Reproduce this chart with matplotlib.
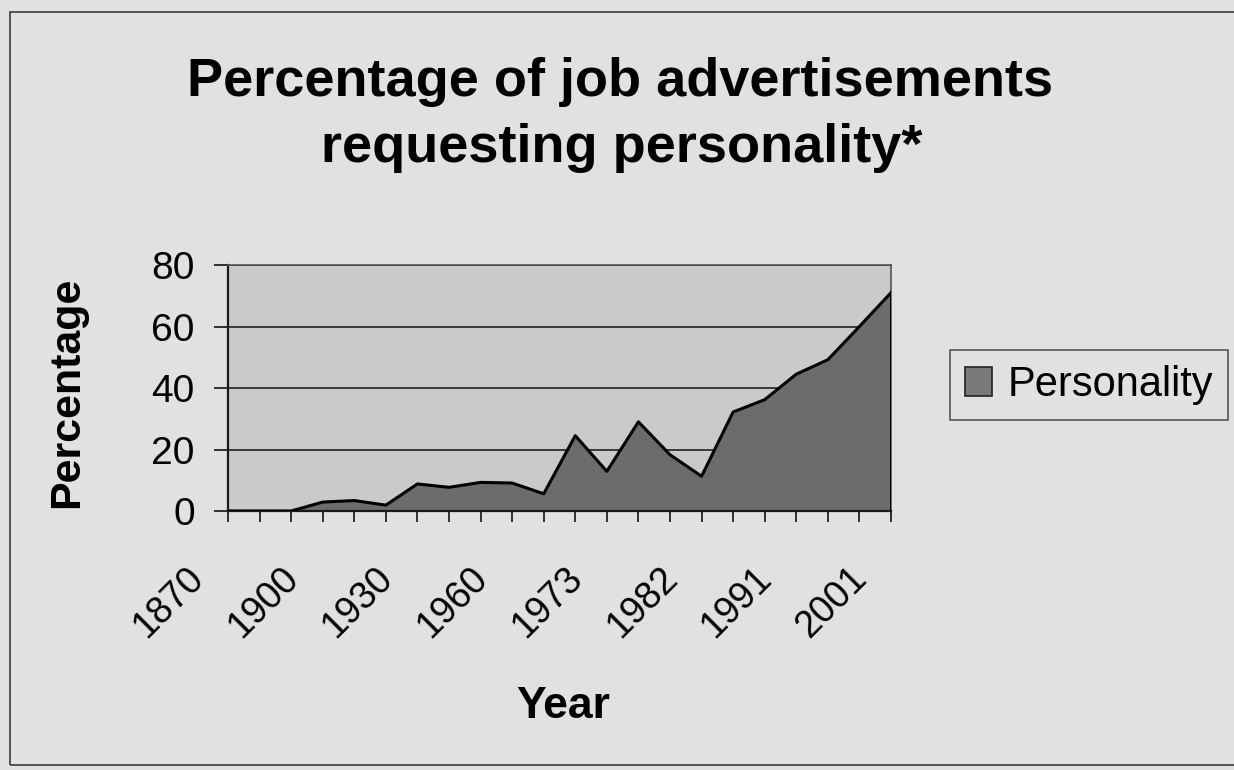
import matplotlib.pyplot as plt
from matplotlib.patches import Rectangle, Patch
from matplotlib.transforms import ScaledTranslation

plt.rcParams['font.family'] = ['Liberation Sans', 'DejaVu Sans']

# ── Data ──────────────────────────────────────────────────────────────────────
years = ['1870', '1880', '1890', '1900', '1910', '1920', '1930', '1940',
         '1950', '1960', '1965', '1970', '1973', '1976', '1979', '1982',
         '1985', '1988', '1991', '1994', '1997', '2001']
personality = [0, 0, 0, 2.9, 3.4, 1.9, 8.8, 7.7, 9.3, 9.1, 5.6, 24.5,
               12.9, 29.0, 18.3, 11.3, 32.2, 36.2, 44.5, 49.2, 60.0, 71.0]
shown_years = ['1870', '1900', '1930', '1960', '1973', '1982', '1991', '2001']
y_ticks = [0, 20, 40, 60, 80]

page_bg = '#e1e1e1'
plot_bg = '#cacaca'
fill_col = '#6c6c6c'

W, H = 1234, 770
fig = plt.figure(figsize=(W / 100, H / 100), dpi=100, facecolor=page_bg)

# chart frame
fig.patches.append(Rectangle((10 / W, 1 - 765 / H), 1.2, (765 - 12) / H,
                             transform=fig.transFigure, fill=False,
                             edgecolor='#3a3a3a', linewidth=1.2))

ax = fig.add_axes([228 / W, 1 - 511 / H, (891 - 228) / W, (511 - 265) / H])
ax.set_facecolor(plot_bg)

x = list(range(len(years)))
ax.fill_between(x, personality, 0, facecolor=fill_col, edgecolor='none', zorder=2)
ax.plot(x, personality, color='black', lw=2.2, zorder=3)
ax.plot([x[-1], x[-1]], [0, personality[-1]], color='black', lw=2.2, zorder=3)

ax.set_xlim(0, len(years) - 1)
ax.set_ylim(0, 80)
ax.set_yticks(y_ticks)
ax.yaxis.grid(True, color='#2e2e2e', lw=1.3, zorder=1)
ax.set_axisbelow(True)

ax.set_xticks(x, minor=True)
ax.set_xticks([years.index(y) for y in shown_years])
ax.set_xticklabels(shown_years, rotation=45, ha='right', va='center',
                   rotation_mode='anchor', fontsize=27)
ax.tick_params(axis='x', which='both', length=8, width=1.3, color='#222',
               pad=36.6)
ax.tick_params(axis='y', length=10, width=1.3, color='#222', pad=14,
               labelsize=28)
shift = ScaledTranslation(-0.30, 0, fig.dpi_scale_trans)
for lab in ax.get_xticklabels():
    lab.set_transform(lab.get_transform() + shift)

for side in ['left', 'bottom']:
    ax.spines[side].set_color('#1a1a1a')
    ax.spines[side].set_linewidth(1.6)
for side in ['top', 'right']:
    ax.spines[side].set_color('#555555')
    ax.spines[side].set_linewidth(1.2)

# ── Titles and labels ─────────────────────────────────────────────────────────
fig.text(620 / W, 1 - 96 / H, 'Percentage of job advertisements',
         ha='center', va='baseline', fontsize=39, fontweight='bold')
fig.text(622 / W, 1 - 162 / H, 'requesting personality*',
         ha='center', va='baseline', fontsize=39, fontweight='bold')
fig.text(67 / W, 1 - 392 / H, 'Percentage', rotation=90, ha='center',
         va='center', fontsize=31, fontweight='bold')
fig.text(563 / W, 1 - 718 / H, 'Year', ha='center', va='baseline',
         fontsize=32, fontweight='bold')

# ── Legend ────────────────────────────────────────────────────────────────────
handle = Patch(facecolor='#7a7a7a', edgecolor='#222222', linewidth=1.2)
leg = fig.legend([handle], ['Personality'], loc='center left',
                 bbox_to_anchor=(950 / W, 1 - 385 / H), fontsize=30,
                 frameon=True, fancybox=False, borderpad=0.35,
                 handlelength=0.67, handleheight=0.67, handletextpad=0.36,
                 borderaxespad=0)
leg.get_frame().set_facecolor(page_bg)
leg.get_frame().set_edgecolor('#333333')
leg.get_frame().set_linewidth(1.2)

plt.savefig('out.png', dpi=100, facecolor=page_bg)
plt.close()
